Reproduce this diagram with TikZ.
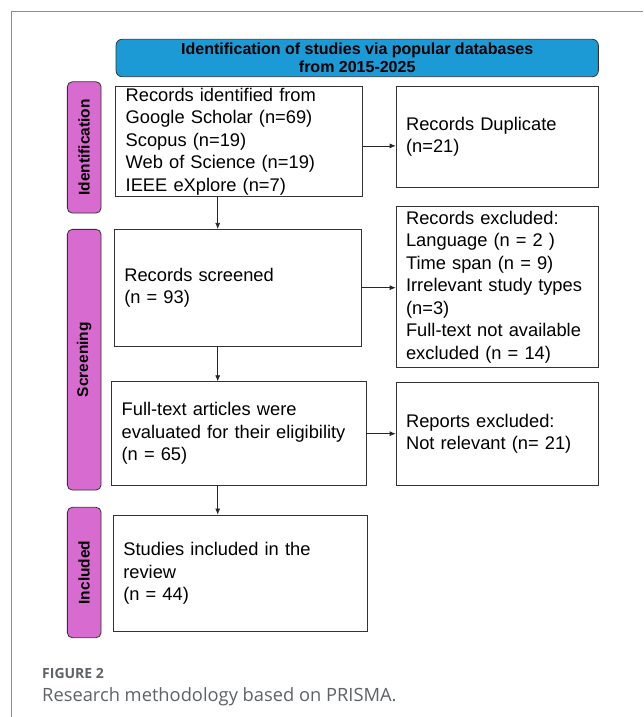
\documentclass[tikz,border=0pt]{standalone}
\usepackage{fontspec}
\setmainfont{Liberation Sans}
\newfontfamily\capfont{Open Sans}
\usetikzlibrary{arrows.meta}
\definecolor{hdrblue}{HTML}{1B9AD6}
\definecolor{phasecol}{HTML}{D86BCF}
\definecolor{capgray}{HTML}{5F6368}
\definecolor{framegray}{HTML}{8A8A90}
\begin{document}
\begin{tikzpicture}[x=1pt,y=-1pt,
  box/.style={draw=black!80, line width=0.8pt, rectangle, align=left,
    inner xsep=10pt, inner ysep=0pt, font=\fontsize{18.3}{22.5}\selectfont},
  hdr/.style={draw=black!80, line width=0.8pt, fill=hdrblue, rounded corners=6pt,
    align=center, font=\fontsize{16}{18.3}\selectfont\bfseries, inner sep=0pt},
  phase/.style={draw=black!80, line width=0.8pt, fill=phasecol, rounded corners=5pt,
    rotate=90, minimum height=33.7pt, inner sep=0pt,
    font=\fontsize{15.5}{17}\selectfont\bfseries},
  arr/.style={-{Latex[length=6pt,width=5pt]}, line width=0.7pt, black!85}]
\useasboundingbox (0,0) rectangle (643,717);
\fill[white] (0,0) rectangle (643,717);
% frame
\coordinate (fb) at (11,717);
\coordinate (fc) at (11,11);
\coordinate (fr) at (643,11);
\draw[framegray, line width=0.9pt] (fb) -- (fc) -- (fr);

\node[hdr, minimum width=482.3pt, minimum height=37.4pt] (hdr) at (357.2,58)
  {Identification of studies via popular databases\\from 2015-2025};

\node[phase, minimum width=131.3pt] (pid) at (84.2,147.4) {Identification};
\node[phase, minimum width=260.7pt] (psc) at (84.2,359.7) {Screening};
\node[phase, minimum width=130.4pt] (pin) at (84.2,572.5) {Included};

\node[box, minimum width=247pt, minimum height=110.7pt, text width=227pt] (rec) at (239.2,141.3)
  {Records identified from\\Google Scholar (n=69)\\Scopus (n=19)\\Web of Science (n=19)\\IEEE eXplore (n=7)};
\node[box, minimum width=202.3pt, minimum height=101.7pt, text width=182.3pt] (dup) at (497.2,136.8)
  {Records Duplicate\\(n=21)\\[6pt]};
\node[box, minimum width=246.7pt, minimum height=116.7pt, text width=226.7pt] (scr) at (237.7,287.7)
  {Records screened\\(n = 93)};
\node[box, minimum width=202.3pt, minimum height=161.7pt, text width=182.3pt] (exc) at (497.2,286.8)
  {Records excluded:\\Language (n = 2 )\\Time span (n = 9)\\Irrelevant study types\\(n=3)\\Full-text not available\\excluded (n = 14)\\[4pt]};
\node[box, minimum width=254.3pt, minimum height=104pt, text width=234.3pt] (ful) at (238.8,433.7)
  {Full-text articles were\\evaluated for their eligibility\\(n = 65)};
\node[box, minimum width=202.3pt, minimum height=103.4pt, text width=182.3pt] (rep) at (497.2,434)
  {Reports excluded:\\Not relevant (n= 21)};
\node[box, minimum width=254.4pt, minimum height=116.7pt, text width=234.4pt] (inc) at (240.5,573.3)
  {Studies included in the\\review\\(n = 44)};

\coordinate (vx) at (217.7,0);
\draw[arr] (rec.south -| vx) -- (scr.north -| vx);
\draw[arr] (scr.south -| vx) -- (ful.north -| vx);
\draw[arr] (ful.south -| vx) -- (inc.north -| vx);
\draw[arr] ([yshift=-4.6pt]rec.east) -- ([yshift=-4.6pt]rec.east -| dup.west);
\draw[arr] (scr.east) -- (scr.east -| exc.west);
\draw[arr] (ful.east) -- (ful.east -| rep.west);

\node[anchor=base west, inner sep=0pt, text=capgray, font=\capfont\fontsize{14}{16}\selectfont\bfseries] (fig) at (42,678) {FIGURE 2};
\node[anchor=base west, inner sep=0pt, text=capgray, font=\capfont\fontsize{18.3}{20}\selectfont] (cap) at (42,701) {Research methodology based on PRISMA.};
\end{tikzpicture}
\end{document}
